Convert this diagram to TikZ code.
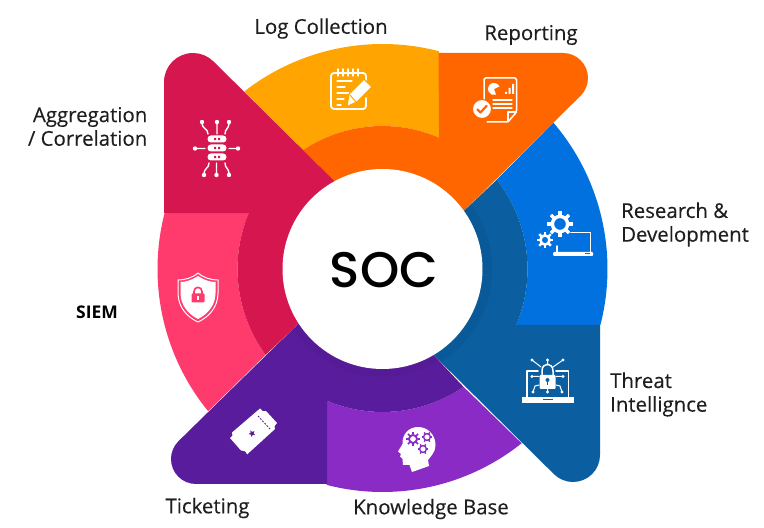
\documentclass[tikz,border=0pt]{standalone}
\usepackage{fontspec}
\usetikzlibrary{calc,shapes.geometric}
\setmainfont{Open Sans}
\newfontfamily\socfont{Poppins}[UprightFont=* Medium]
\newfontfamily\lblfont[FakeBold=0.25]{Open Sans}
\definecolor{cGold}{HTML}{FFA400}
\definecolor{cOrange}{HTML}{FF6600}
\definecolor{cCrimson}{HTML}{D6174F}
\definecolor{cPink}{HTML}{FF3A6C}
\definecolor{cDeep}{HTML}{591C9C}
\definecolor{cViolet}{HTML}{8B2BC6}
\definecolor{cNavy}{HTML}{0B5E9F}
\definecolor{cBlue}{HTML}{0071DE}
\definecolor{cInk}{HTML}{1E1E1E}
\newcommand{\gearshape}[5]{% x y ring-radius ring-width tooth-length
  \draw[white,line width=#4] (#1,#2) circle[radius=#3];
  \foreach \a in {0,45,...,315}
    \draw[white,line width=#4*0.95] (#1,#2) ++(\a:#3) -- ++(\a:#5+#4*0.5);
}
\tikzset{
  px/.style={shift={(0,528)},yscale=-1},
  lbl/.style={text=cInk,font=\lblfont\fontsize{20.4}{23.7}\selectfont,inner sep=0pt,align=left},
  ico/.style={white,line width=1.4,line cap=round,line join=round},
}
\begin{document}
\begin{tikzpicture}[x=1pt,y=1pt]
\useasboundingbox (0,0) rectangle (764,528);
\coordinate (C) at (382.5,259);
% light outer sectors
\fill[cGold] (C)++(127.9:225pt) arc[start angle=127.9,end angle=75.5,radius=225pt]
  -- ($(C)+(66.7:143pt)$) arc[start angle=66.7,end angle=123.7,radius=143pt] -- cycle;
\fill[cBlue] (C)++(40.6:225pt) arc[start angle=40.6,end angle=-14.4,radius=225pt]
  -- ($(C)+(-22.7:145pt)$) arc[start angle=-22.7,end angle=38,radius=145pt] -- cycle;
\fill[cViolet] (C)++(-51.4:223pt) arc[start angle=-51.4,end angle=-104.5,radius=223pt]
  -- ($(C)+(-112.8:143pt)$) arc[start angle=-112.8,end angle=-55.5,radius=143pt] -- cycle;
\fill[cPink] (C)++(219.2:225pt) arc[start angle=219.2,end angle=165.6,radius=225pt]
  -- ($(C)+(157.3:145pt)$) arc[start angle=157.3,end angle=216.3,radius=145pt] -- cycle;
% dark pinwheel blades
\fill[cOrange] (C)++(118.6:100pt) -- ($(C)+(123.7:143pt)$)
  arc[start angle=123.7,end angle=66.7,radius=143pt] -- (438.5,475) -- (563,475)
  arc[start angle=90,end angle=-45,radius=25pt] -- ($(C)+(35.5:100pt)$) -- cycle;
\fill[cNavy] (C)++(35.5:100pt) -- ($(C)+(38:145pt)$)
  arc[start angle=38,end angle=-22.7,radius=145pt] -- (600,203) -- (600,73)
  arc[start angle=0,end angle=-135,radius=27pt] -- ($(C)+(-59.3:100pt)$) -- cycle;
\fill[cDeep] (C)++(-59.3:100pt) -- ($(C)+(-55.5:143pt)$)
  arc[start angle=-55.5,end angle=-112.8,radius=143pt] -- (327,44) -- (196,44)
  arc[start angle=270,end angle=135,radius=25pt] -- ($(C)+(213:100pt)$) -- cycle;
\fill[cCrimson] (C)++(213:100pt) -- ($(C)+(216.3:145pt)$)
  arc[start angle=216.3,end angle=157.3,radius=145pt] -- (164,315) -- (164,446)
  arc[start angle=180,end angle=45,radius=29pt] -- ($(C)+(118.6:100pt)$) -- cycle;
% soft shadow on the dark ring
\foreach \r in {101,103,...,109}
  \draw[black,opacity=0.035,line width=2pt] (C)++(-59:\r pt) arc[start angle=-59,end angle=36,radius=\r pt];
\foreach \r in {101,103,...,107}
  \draw[black,opacity=0.03,line width=2pt] (C)++(213:\r pt) arc[start angle=213,end angle=301,radius=\r pt];
% centre
\node[circle,fill=white,minimum size=200pt,inner sep=0pt] (hub) at (C) {};
\node[inner sep=0pt,text=black,font=\socfont\fontsize{50}{50}\selectfont] (soc) at (384,258) {SOC};
\begin{scope}[px]
% labels
\node[lbl,anchor=center] (l1) at (321,28.5) {Log Collection};
\node[lbl,anchor=center] (l2) at (531,35) {Reporting};
\node[lbl,anchor=east,align=right] (l3) at (147.5,126.5) {Aggregation\\/ Correlation};
\node[lbl,anchor=west] (l4) at (621,224.5) {Research \&\\Development};
\node[lbl,anchor=west] (l5) at (610,394.5) {Threat\\Intellignce};
\node[anchor=center,inner sep=0pt,text=black,font=\bfseries\fontsize{17.5}{20}\selectfont] (l6) at (97,312) {SIEM};
\node[lbl,anchor=center] (l7) at (207.5,508) {Ticketing};
\node[lbl,anchor=center] (l8) at (431,509) {Knowledge Base};

% notepad icon
\draw[ico,line width=1.8,rounded corners=3] (366,90) -- (366,73) -- (331,73) -- (331,109) -- (366,109) -- (366,98);
\foreach \x in {338,343,348,353,358} \draw[ico,line width=1.5] (\x,69) -- (\x,76);
\draw[ico,line width=1.2] (337,81) -- (352,81) (337,87) -- (345,87) (337,93) -- (349,93) (337,99) -- (344,99) (337,105) -- (341,105);
\fill[white,draw=cGold,line width=1.2,line join=round] (347,106.5) -- (349,94) -- (364,79) -- (372,87) -- (357,102) -- cycle;
\draw[cGold,line width=1] (350,95) -- (356,102);

% report icon
\draw[ico,line width=1.5,rounded corners=1.5] (484,100) -- (484,78) -- (516.5,78) -- (516.5,112) -- (508,122) -- (487,122);
\draw[ico,line width=1.2] (516.5,112) -- (508,112) -- (508,122);
\fill[white] (494,89) -- ++(-25:6) arc[start angle=-25,end angle=-290,radius=6] -- cycle;
\fill[white] (505,92) rectangle (507,94) (508.5,88) rectangle (510.5,94) (512,84) rectangle (514,94);
\draw[ico,line width=1.1] (493,100) -- (512,100) (493,104) -- (512,104) (493,108) -- (512,108);
\fill[white,draw=cOrange,line width=1] (482,109) circle[radius=9.5];
\draw[cOrange,line width=2.2,line cap=round,line join=round] (477.5,109.5) -- (480.5,112.5) -- (486.5,106);

% aggregation icon
\foreach \y in {139,148,157} {
  \fill[white,rounded corners=3.4] (207.5,\y-3.5) rectangle (226.5,\y+3.5);
  \fill[cCrimson] (214,\y-1.2) rectangle (216,\y+1.2) (218,\y-1.2) rectangle (220,\y+1.2);
}
\draw[ico] (195,148.5) -- (205,148.5) (229,148.5) -- (238,148.5)
  (217,122) -- (217,134) (216.5,163) -- (216.5,175)
  (202,122) .. controls (202,130) and (208,128) .. (208,134)
  (229,122) .. controls (229,130) and (225,128) .. (225,134)
  (204,175) .. controls (204,167) and (209,169) .. (209,163)
  (229,175) .. controls (229,167) and (225,169) .. (225,163);
\foreach \p in {(195,148.5),(238,148.5),(202,122),(217,122),(229,122),(204,175),(216.5,175),(229,175)}
  \fill[white] \p circle[radius=2.2];

% shield icon
\draw[ico,line width=1] (198,273) .. controls (192,278) and (185,280) .. (178,280)
  -- (178,293) .. controls (178,307) and (187,317) .. (198,322)
  .. controls (209,317) and (218,307) .. (218,293) -- (218,280)
  .. controls (211,280) and (204,278) .. (198,273) -- cycle;
\fill[white] (198,276) .. controls (192,280) and (186,282) .. (180.5,282)
  -- (180.5,293) .. controls (180.5,305) and (188,314) .. (198,319)
  .. controls (208,314) and (215.5,305) .. (215.5,293) -- (215.5,282)
  .. controls (210,282) and (204,280) .. (198,276) -- cycle;
\fill[cPink,rounded corners=1] (191.5,293.5) rectangle (204.5,302.5);
\draw[cPink,line width=1.6] (194,294) -- (194,291.5) .. controls (194,286) and (202,286) .. (202,291.5) -- (202,294);
\fill[white] (197,296.5) rectangle (199,300);

% gears and laptop icon
\gearshape{560}{224}{7.6}{3.4}{3.5}
\gearshape{545}{240}{4.6}{2.6}{2.4}
\draw[ico,line width=1.6] (571,232.5) -- (590.5,232.5) -- (590.5,252) (557,246) -- (557,252);
\fill[white,rounded corners=1] (553,252) rectangle (593,256);
\fill[cBlue] (585,253.5) rectangle (590,254.5);

% laptop-lock icon
\draw[ico,line width=1.6] (538,371) -- (527,371) -- (527,397) (568.5,397) -- (568.5,371) -- (556,371);
\fill[white] (522,397.5) -- (574,397.5) -- (574,403) -- (522,403) -- cycle;
\fill[cNavy] (543,399) rectangle (553,400.5);
\draw[ico,line width=1.5] (542,375) -- (542,371) .. controls (542,362) and (553,362) .. (553,371) -- (553,375);
\fill[white,rounded corners=1] (539.5,375) rectangle (555.5,389);
\fill[cNavy] (547.5,380) circle[radius=2];
\fill[cNavy] (546.7,380) rectangle (548.3,385);
\draw[ico,line width=1] (532,360) -- (541,367) (547.5,360) -- (547.5,365) (563,360) -- (553,367)
  (532,376.5) -- (539,376.5) (556,376.5) -- (563,376.5)
  (533,392) -- (535,386) -- (539,385) (562,392) -- (560,386) -- (556,385) (547.5,389) -- (547.5,392);
\foreach \p in {(532,360),(547.5,360),(563,360),(532,376.5),(563,376.5),(533,392),(562,392),(547.5,392)}
  \fill[white] \p circle[radius=1.7];

% head icon
\fill[white] (418,427) .. controls (428,427) and (435.5,435) .. (435.5,445)
  .. controls (435.5,452) and (431,456) .. (428,460) -- (429,466) -- (412,472)
  -- (409.5,465) -- (403,465) -- (402.5,459) -- (400,456.5) -- (401,454) -- (398,451.5)
  -- (402.5,444) .. controls (402,434) and (409,427) .. (418,427) -- cycle;
\draw[cViolet,line width=1.9] (413,439) circle[radius=4];
\foreach \a in {0,45,...,315} \draw[cViolet,line width=1.7] (413,439)++(\a:4.5) -- ++(\a:2.6);
\draw[cViolet,line width=1.4] (427,437) circle[radius=3.4];
\foreach \a in {0,60,...,300} \draw[cViolet,line width=1.3] (427,437)++(\a:3.5) -- ++(\a:1.9);
\draw[cViolet,line width=1.4] (423,449) circle[radius=3.4];
\foreach \a in {0,60,...,300} \draw[cViolet,line width=1.3] (423,449)++(\a:3.5) -- ++(\a:1.9);

% ticket icon
\fill[white] (260,408.5) .. controls (261,411) and (264,412) .. (266,411) -- (277,423)
  .. controls (274,426) and (274,428) .. (275,429) -- (247,454.5)
  .. controls (246,451) and (243,450) .. (241,450.5) -- (230,438)
  .. controls (233,436) and (233,434) .. (232,432.5) -- cycle;
\draw[cDeep,line width=0.9,dash pattern=on 1.8pt off 1.4pt] (258,416) -- (270,429);
\node[inner sep=0pt,star,star points=5,star point ratio=2.2,fill=cDeep,minimum size=7pt,rotate=-45] (tstar) at (252,433.5) {};
\end{scope}
\end{tikzpicture}
\end{document}
